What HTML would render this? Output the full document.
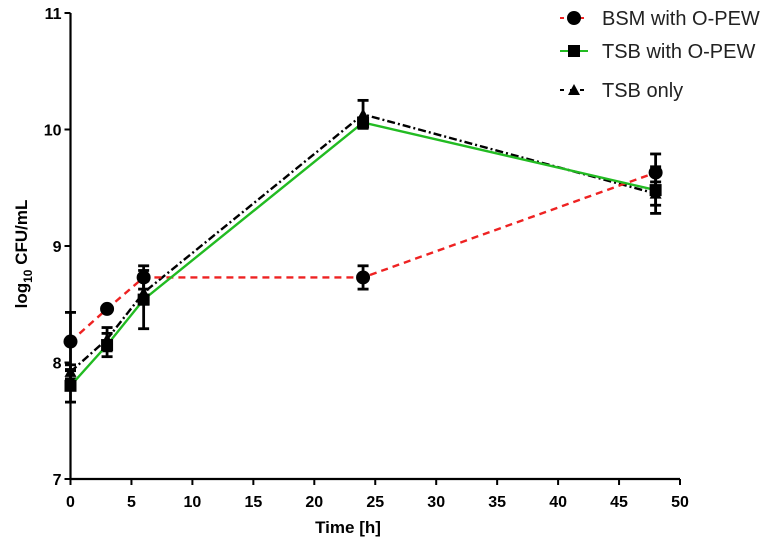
<!DOCTYPE html>
<html><head><meta charset="utf-8"><style>
body{margin:0;background:#fff;}
svg{display:block;font-family:"Liberation Sans",Arial,sans-serif;}
</style></head><body>
<svg id="chart" width="769" height="546">
<g id="axes"></g>
<g id="series"></g>
<g id="legend"></g>
</svg>
<script>
const times = [0, 3, 6, 24, 48];
const bsmVals = [8.18, 8.46, 8.73, 8.73, 9.63];
const bsmErr = [0.25, 0.02, 0.10, 0.10, 0.16];
const tsbPewVals = [7.80, 8.15, 8.54, 10.06, 9.48];
const tsbPewErr = [0.14, 0.10, 0.25, 0.04, 0.20];
const tsbVals = [7.92, 8.20, 8.60, 10.13, 9.45];
const tsbErr = [0.06, 0.10, 0.10, 0.12, 0.10];
const xTicks = [0, 5, 10, 15, 20, 25, 30, 35, 40, 45, 50];
const yTicks = [7, 8, 9, 10, 11];

const NS = "http://www.w3.org/2000/svg";
const X0 = 70.5, X1 = 680, Y7 = 479, Y11 = 13;
const xs = v => X0 + (v - 0) / 50 * (X1 - X0);
const ys = v => Y7 - (v - 7) / 4 * (Y7 - Y11);
function mk(tag, attrs, parent) { const e = document.createElementNS(NS, tag); for (const k in attrs) e.setAttribute(k, attrs[k]); parent.appendChild(e); return e; }

const axes = document.getElementById('axes');
let e = mk('line', {x1: X0, y1: Y11, x2: X0, y2: Y7, stroke: '#000', 'stroke-width': 2.2}, axes);


e = mk('line', {x1: X0, y1: Y7, x2: X1, y2: Y7, stroke: '#000', 'stroke-width': 2.2}, axes);


xTicks.forEach(t => {
  mk('line', {x1: xs(t), y1: Y7, x2: xs(t), y2: Y7 + 6, stroke: '#000', 'stroke-width': 2}, axes);
  const tx = mk('text', {x: xs(t), y: Y7 + 28, 'text-anchor': 'middle', 'font-size': 16, 'font-weight': 'bold'}, axes);
  tx.textContent = t;
  
  
});
yTicks.forEach(t => {
  mk('line', {x1: X0 - 6, y1: ys(t), x2: X0, y2: ys(t), stroke: '#000', 'stroke-width': 2}, axes);
  const tx = mk('text', {x: X0 - 9, y: ys(t) + 6, 'text-anchor': 'end', 'font-size': 16, 'font-weight': 'bold'}, axes);
  tx.textContent = t;
  
  
});
e = mk('text', {x: 348, y: 533, 'text-anchor': 'middle', 'font-size': 17, 'font-weight': 'bold'}, axes);
e.textContent = 'Time [h]';


e = mk('text', {transform: 'translate(27,254) rotate(-90)', 'text-anchor': 'middle', 'font-size': 17, 'font-weight': 'bold'}, axes);
e.innerHTML = 'log<tspan font-size="12" dy="5">10</tspan><tspan dy="-5"> CFU/mL</tspan>';



const ser = document.getElementById('series');
const defs = [
  {name: 'tsb-only', vals: tsbVals, err: tsbErr, color: '#000', dash: '8,3,2,3', marker: 'tri'},
  {name: 'bsm-with-o-pew', vals: bsmVals, err: bsmErr, color: '#ee2222', dash: '7,5', marker: 'circle'},
  {name: 'tsb-with-o-pew', vals: tsbPewVals, err: tsbPewErr, color: '#22bb22', dash: '', marker: 'square'}
];
function marker(type, x, y, g) {
  if (type === 'circle') return mk('circle', {cx: x, cy: y, r: 7, fill: '#000'}, g);
  if (type === 'square') return mk('rect', {x: x - 6, y: y - 6, width: 12, height: 12, fill: '#000'}, g);
  return mk('polygon', {points: `${x},${y - 6} ${x - 6},${y + 5} ${x + 6},${y + 5}`, fill: '#000'}, g);
}
defs.forEach(d => {
  const g = mk('g', {}, ser);
  
  
  const pts = times.map((t, i) => xs(t) + ',' + ys(d.vals[i])).join(' ');
  const pl = mk('polyline', {points: pts, fill: 'none', stroke: d.color, 'stroke-width': 2.4, 'stroke-dasharray': d.dash}, g);
  
  
  times.forEach((t, i) => {
    const x = xs(t), hi = ys(d.vals[i] + d.err[i]), lo = ys(d.vals[i] - d.err[i]);
    mk('line', {x1: x, y1: hi, x2: x, y2: lo, stroke: '#000', 'stroke-width': 2.8}, g);
    mk('line', {x1: x - 5.5, y1: hi, x2: x + 5.5, y2: hi, stroke: '#000', 'stroke-width': 2.8}, g);
    mk('line', {x1: x - 5.5, y1: lo, x2: x + 5.5, y2: lo, stroke: '#000', 'stroke-width': 2.8}, g);
    const m = marker(d.marker, x, ys(d.vals[i]), g);
    
    
  });
});

const leg = document.getElementById('legend');
const legItems = [
  {label: 'BSM with O-PEW', color: '#ee2222', marker: 'circle', y: 18},
  {label: 'TSB with O-PEW', color: '#22bb22', marker: 'square', y: 51},
  {label: 'TSB only', color: '#000', marker: 'tri', y: 90}
];
legItems.forEach(it => {
  const g = mk('g', {}, leg);
  
  
  mk('line', {x1: 560, y1: it.y, x2: 588, y2: it.y, stroke: it.color, 'stroke-width': 2, 'stroke-dasharray': it.marker === 'square' ? '' : '4,6'}, g);
  marker(it.marker, 574, it.y, g);
  const t = mk('text', {x: 602, y: it.y + 7, 'font-size': 20, fill: '#222'}, g);
  t.textContent = it.label;
});
</script>
</body></html>
